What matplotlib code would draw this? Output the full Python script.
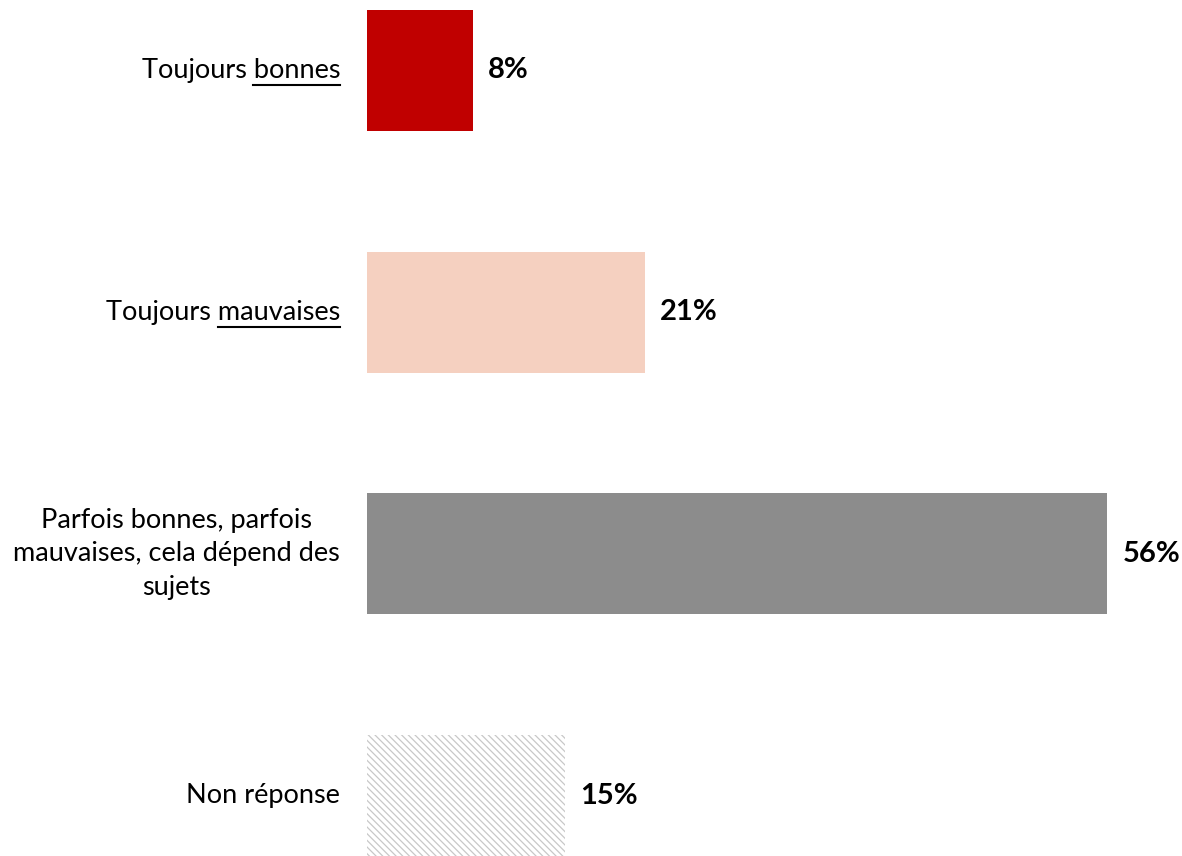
import matplotlib
matplotlib.use("Agg")
import matplotlib.pyplot as plt

categories = ["Toujours bonnes", "Toujours mauvaises",
              "Parfois bonnes, parfois\nmauvaises, cela dépend des\nsujets", "Non réponse"]
underlined = ["bonnes", "mauvaises", None, None]
values = [8, 21, 56, 15]
value_labels = ["8%", "21%", "56%", "15%"]
colors = ["#C00000", "#F5D0C0", "#8C8C8C", "white"]

plt.rcParams['font.family'] = ['Lato', 'DejaVu Sans']
plt.rcParams['hatch.linewidth'] = 0.9

LABEL_FS = 19.5
VALUE_FS = 21

W, H = 1182, 856
fig = plt.figure(figsize=(W / 100, H / 100), dpi=100)
ax_left = 367 / W
ax = fig.add_axes([ax_left, 0, 1 - ax_left, 1])
ax.set_xlim(0, (W - 367) / 13.22)
ax.set_ylim(3.25, -0.2916)
ax.axis("off")

for i, (v, c) in enumerate(zip(values, colors)):
    if i == 3:
        ax.barh(i, v, height=0.5, color="white", edgecolor="#C8C8C8", linewidth=0, hatch="\\" * 5)
    else:
        ax.barh(i, v, height=0.5, color=c, linewidth=0)
    ax.annotate(value_labels[i], (v, i), xytext=(15 * 72 / 100, 0), textcoords="offset points",
                ha="left", va="center", fontsize=VALUE_FS, fontweight="bold", color="black")

fig.canvas.draw()
renderer = fig.canvas.get_renderer()
label_x = 340 / W
trans = matplotlib.transforms.blended_transform_factory(fig.transFigure, ax.transData)
for i, cat in enumerate(categories):
    t = fig.text(label_x, i, cat, ha="right", va="center", multialignment="center",
                 fontsize=LABEL_FS, color="black", linespacing=1.42, transform=trans)
    if underlined[i]:
        fig.canvas.draw()
        bb = t.get_window_extent(renderer)
        word = underlined[i]
        tmp = fig.text(0, 0, word, fontsize=LABEL_FS)
        wb = tmp.get_window_extent(renderer)
        tmp.remove()
        x1 = bb.x1
        x0 = x1 - wb.width
        yline = bb.y0 - 2
        fig.add_artist(plt.Line2D([x0 / W, x1 / W], [yline / H, yline / H],
                                  transform=fig.transFigure, color="black", linewidth=1.5))

fig.savefig("out.png", dpi=100)
